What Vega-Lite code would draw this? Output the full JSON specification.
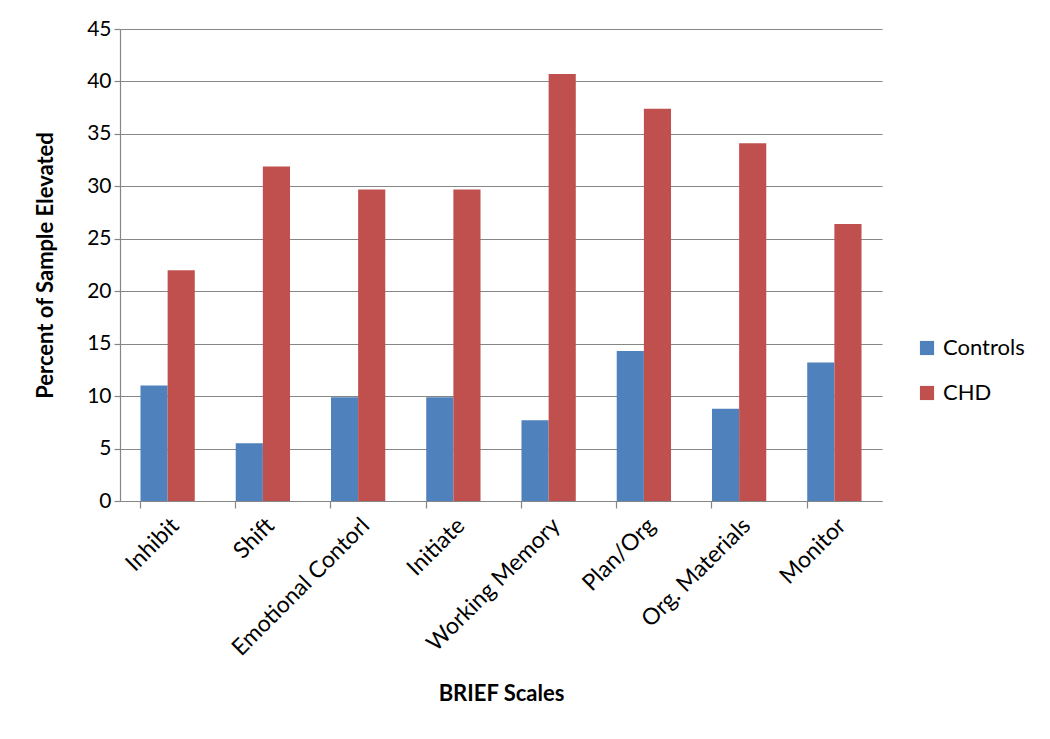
{
  "$schema": "https://vega.github.io/schema/vega-lite/v6.json",
  "width": 762,
  "height": 472,
  "padding": {"left": 34, "top": 18, "right": 5, "bottom": 5},
  "background": "white",
  "data": {
    "values": [
      {"scale": "Inhibit", "group": "Controls", "pct": 11.0},
      {"scale": "Inhibit", "group": "CHD", "pct": 22.0},
      {"scale": "Shift", "group": "Controls", "pct": 5.5},
      {"scale": "Shift", "group": "CHD", "pct": 31.9},
      {"scale": "Emotional Contorl", "group": "Controls", "pct": 9.9},
      {"scale": "Emotional Contorl", "group": "CHD", "pct": 29.7},
      {"scale": "Initiate", "group": "Controls", "pct": 9.9},
      {"scale": "Initiate", "group": "CHD", "pct": 29.7},
      {"scale": "Working Memory", "group": "Controls", "pct": 7.7},
      {"scale": "Working Memory", "group": "CHD", "pct": 40.7},
      {"scale": "Plan/Org", "group": "Controls", "pct": 14.3},
      {"scale": "Plan/Org", "group": "CHD", "pct": 37.4},
      {"scale": "Org. Materials", "group": "Controls", "pct": 8.8},
      {"scale": "Org. Materials", "group": "CHD", "pct": 34.1},
      {"scale": "Monitor", "group": "Controls", "pct": 13.2},
      {"scale": "Monitor", "group": "CHD", "pct": 26.4}
    ]
  },
  "mark": {"type": "bar"},
  "encoding": {
    "x": {
      "field": "scale",
      "type": "nominal",
      "sort": null,
      "scale": {"paddingInner": 0.43, "paddingOuter": 0.215},
      "axis": {
        "title": "BRIEF Scales",
        "titleFontSize": 22,
        "titleFontWeight": "bold",
        "titleFont": "Lato",
        "titleColor": "black",
        "titlePadding": 24,
        "labelAngle": -45,
        "labelAlign": "right",
        "labelBaseline": "top",
        "labelFont": "Lato",
        "labelFontSize": 23,
        "labelColor": "black",
        "labelPadding": 6,
        "labelLimit": 400,
        "bandPosition": 0,
        "tickSize": 7,
        "tickColor": "#868686",
        "domainColor": "#868686",
        "grid": false
      }
    },
    "xOffset": {"field": "group", "sort": ["Controls", "CHD"]},
    "y": {
      "field": "pct",
      "type": "quantitative",
      "scale": {"domain": [0, 45]},
      "axis": {
        "title": "Percent of Sample Elevated",
        "titleFontSize": 22,
        "titleFontWeight": "bold",
        "titleFont": "Lato",
        "titleColor": "black",
        "titlePadding": 29,
        "values": [0, 5, 10, 15, 20, 25, 30, 35, 40, 45],
        "labelFont": "Lato",
        "labelFontSize": 21,
        "labelColor": "black",
        "labelPadding": 3,
        "tickSize": 6,
        "tickColor": "#868686",
        "domainColor": "#868686",
        "gridColor": "#868686",
        "gridWidth": 1.2
      }
    },
    "color": {
      "field": "group",
      "type": "nominal",
      "sort": ["Controls", "CHD"],
      "scale": {"domain": ["Controls", "CHD"], "range": ["#4F81BD", "#C0504D"]},
      "legend": {
        "title": null,
        "orient": "none",
        "legendX": 796,
        "legendY": 308,
        "symbolType": "square",
        "symbolSize": 200,
        "symbolStrokeWidth": 0,
        "labelFont": "Lato",
        "labelFontSize": 22,
        "labelColor": "black",
        "labelOffset": 5,
        "rowPadding": 23
      }
    }
  },
  "config": {
    "view": {"stroke": null},
    "axis": {"domainWidth": 1.2, "tickWidth": 1.2}
  }
}
